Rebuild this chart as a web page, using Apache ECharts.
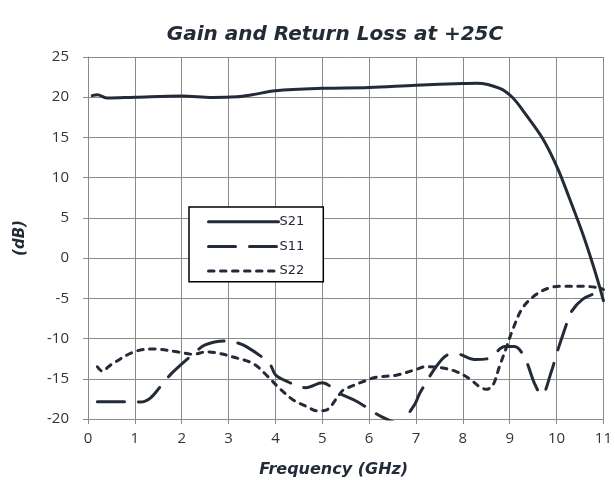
<!DOCTYPE html>
<html><head><meta charset="utf-8">
<script src="https://cdn.jsdelivr.net/npm/echarts@6/dist/echarts.min.js"></script>
<style>html,body{margin:0;padding:0;background:#fff}#c{width:615px;height:495px}</style>
</head><body><div id="c"></div>
<script>
const titleText = "Gain and Return Loss at +25C";
const xName = "Frequency (GHz)";
const yName = "(dB)";
const seriesNames = ["S21", "S11", "S22"];

const s21 = [[0.09,20.2],[0.2,20.3],[0.4,19.9],[1.0,20.0],[2.0,20.15],[2.65,19.95],[3.18,20.05],[3.5,20.3],[4.0,20.8],[5.0,21.1],[6.0,21.2],[7.0,21.5],[8.0,21.7],[8.3,21.75],[8.79,21.1],[9.07,19.9],[9.35,17.8],[9.7,14.9],[10.02,11.2],[10.27,7.5],[10.56,3.0],[10.77,-0.7],[10.92,-3.6],[11.0,-5.3]];
const s11 = [[0.2,-17.85],[0.8,-17.85],[1.12,-17.9],[1.33,-17.4],[1.54,-16.0],[1.79,-14.3],[2.25,-11.9],[2.5,-10.8],[2.9,-10.3],[3.1,-10.4],[3.38,-11.0],[3.87,-13.1],[4.0,-14.5],[4.2,-15.2],[4.65,-16.1],[5.0,-15.5],[5.36,-16.8],[5.73,-17.8],[6.26,-19.7],[6.62,-20.5],[6.97,-18.2],[7.08,-16.8],[7.43,-13.5],[7.65,-12.1],[7.86,-11.9],[8.25,-12.6],[8.54,-12.5],[8.9,-11.0],[9.1,-11.0],[9.32,-12.4],[9.53,-15.6],[9.68,-17.0],[9.9,-13.9],[10.0,-11.9],[10.2,-8.4],[10.3,-6.8],[10.56,-5.1],[10.9,-4.2],[11.0,-3.9]];
const s22 = [[0.2,-13.5],[0.3,-14.05],[0.48,-13.3],[0.98,-11.65],[1.4,-11.3],[1.9,-11.65],[2.25,-11.95],[2.53,-11.65],[2.81,-11.85],[3.1,-12.3],[3.52,-13.1],[3.8,-14.5],[4.09,-16.2],[4.37,-17.6],[4.65,-18.4],[4.9,-19.0],[5.08,-18.9],[5.36,-17.0],[5.45,-16.4],[5.94,-15.2],[6.16,-14.8],[6.58,-14.55],[7.0,-13.85],[7.2,-13.5],[7.5,-13.6],[7.86,-14.1],[8.14,-15.0],[8.36,-16.0],[8.5,-16.3],[8.64,-15.8],[8.78,-13.5],[8.93,-11.1],[9.07,-8.8],[9.28,-6.15],[9.57,-4.5],[9.85,-3.7],[10.13,-3.5],[10.56,-3.5],[10.91,-3.7],[11.0,-3.9]];

const lineColor = "#232b38";
const font = "DejaVu Sans";
const dashS11 = [27,14];
const dashS22 = [5.5,6.5];
const chart = echarts.init(document.getElementById('c'), null, {renderer:'canvas'});
function mk(name, data, type){
  return {name:name, type:'line', data:data, smooth:0.35, symbol:'none', clip:true,
    lineStyle:{color:lineColor, width:3, type:type, cap:'round', join:'round'},
    itemStyle:{color:lineColor}};
}
function legItem(name, type){
  return {name:name, lineStyle:{color:lineColor, width:3, type:type, cap:'round'}, itemStyle:{opacity:0, borderWidth:0}};
}
chart.setOption({
  animation:false,
  backgroundColor:'#fff',
  title:{text:titleText, left:330, textAlign:'center', top:20,
    textStyle:{fontFamily:font, fontSize:20, fontWeight:'bold', fontStyle:'italic', color:'#232b38'}},
  grid:{left:88, right:11, top:57, bottom:76},
  legend:{orient:'vertical', left:189, top:207,
    backgroundColor:'#fff', borderColor:'#000', borderWidth:1.5, borderRadius:0,
    padding:[8,19,4,18], itemGap:11, itemWidth:70, itemHeight:17,
    itemStyle:{opacity:0, borderWidth:0},
    data:[legItem(seriesNames[0],'solid'), legItem(seriesNames[1],dashS11), legItem(seriesNames[2],dashS22)],
    textStyle:{fontFamily:font, fontSize:13, color:'#232b38', padding:[0,0,0,-4]}},
  xAxis:{type:'value', min:0, max:11, interval:1,
    name:xName, nameLocation:'middle', nameGap:43,
    nameTextStyle:{fontFamily:font, fontSize:16, fontWeight:'bold', fontStyle:'italic', color:'#232b38', padding:[0,24,0,0]},
    axisLine:{show:true, onZero:false, lineStyle:{color:'#8a8a8a', width:1}},
    axisTick:{show:true, length:5, lineStyle:{color:'#8a8a8a'}},
    axisLabel:{fontFamily:'Open Sans', fontSize:15, color:'#333', margin:12},
    splitLine:{show:true, lineStyle:{color:'#8a8a8a', width:1}}},
  yAxis:{type:'value', min:-20, max:25, interval:5,
    name:yName, nameLocation:'middle', nameGap:60, nameRotate:90,
    nameTextStyle:{fontFamily:font, fontSize:15, fontWeight:'bold', fontStyle:'italic', color:'#232b38'},
    axisLine:{show:true, onZero:false, lineStyle:{color:'#8a8a8a', width:1}},
    axisTick:{show:true, length:5, lineStyle:{color:'#8a8a8a'}},
    axisLabel:{fontFamily:'Open Sans', fontSize:15, color:'#333', margin:19},
    splitLine:{show:true, lineStyle:{color:'#8a8a8a', width:1}}},
  series:[mk(seriesNames[0], s21, 'solid'), mk(seriesNames[1], s11, dashS11), mk(seriesNames[2], s22, dashS22)]
});
</script></body></html>
